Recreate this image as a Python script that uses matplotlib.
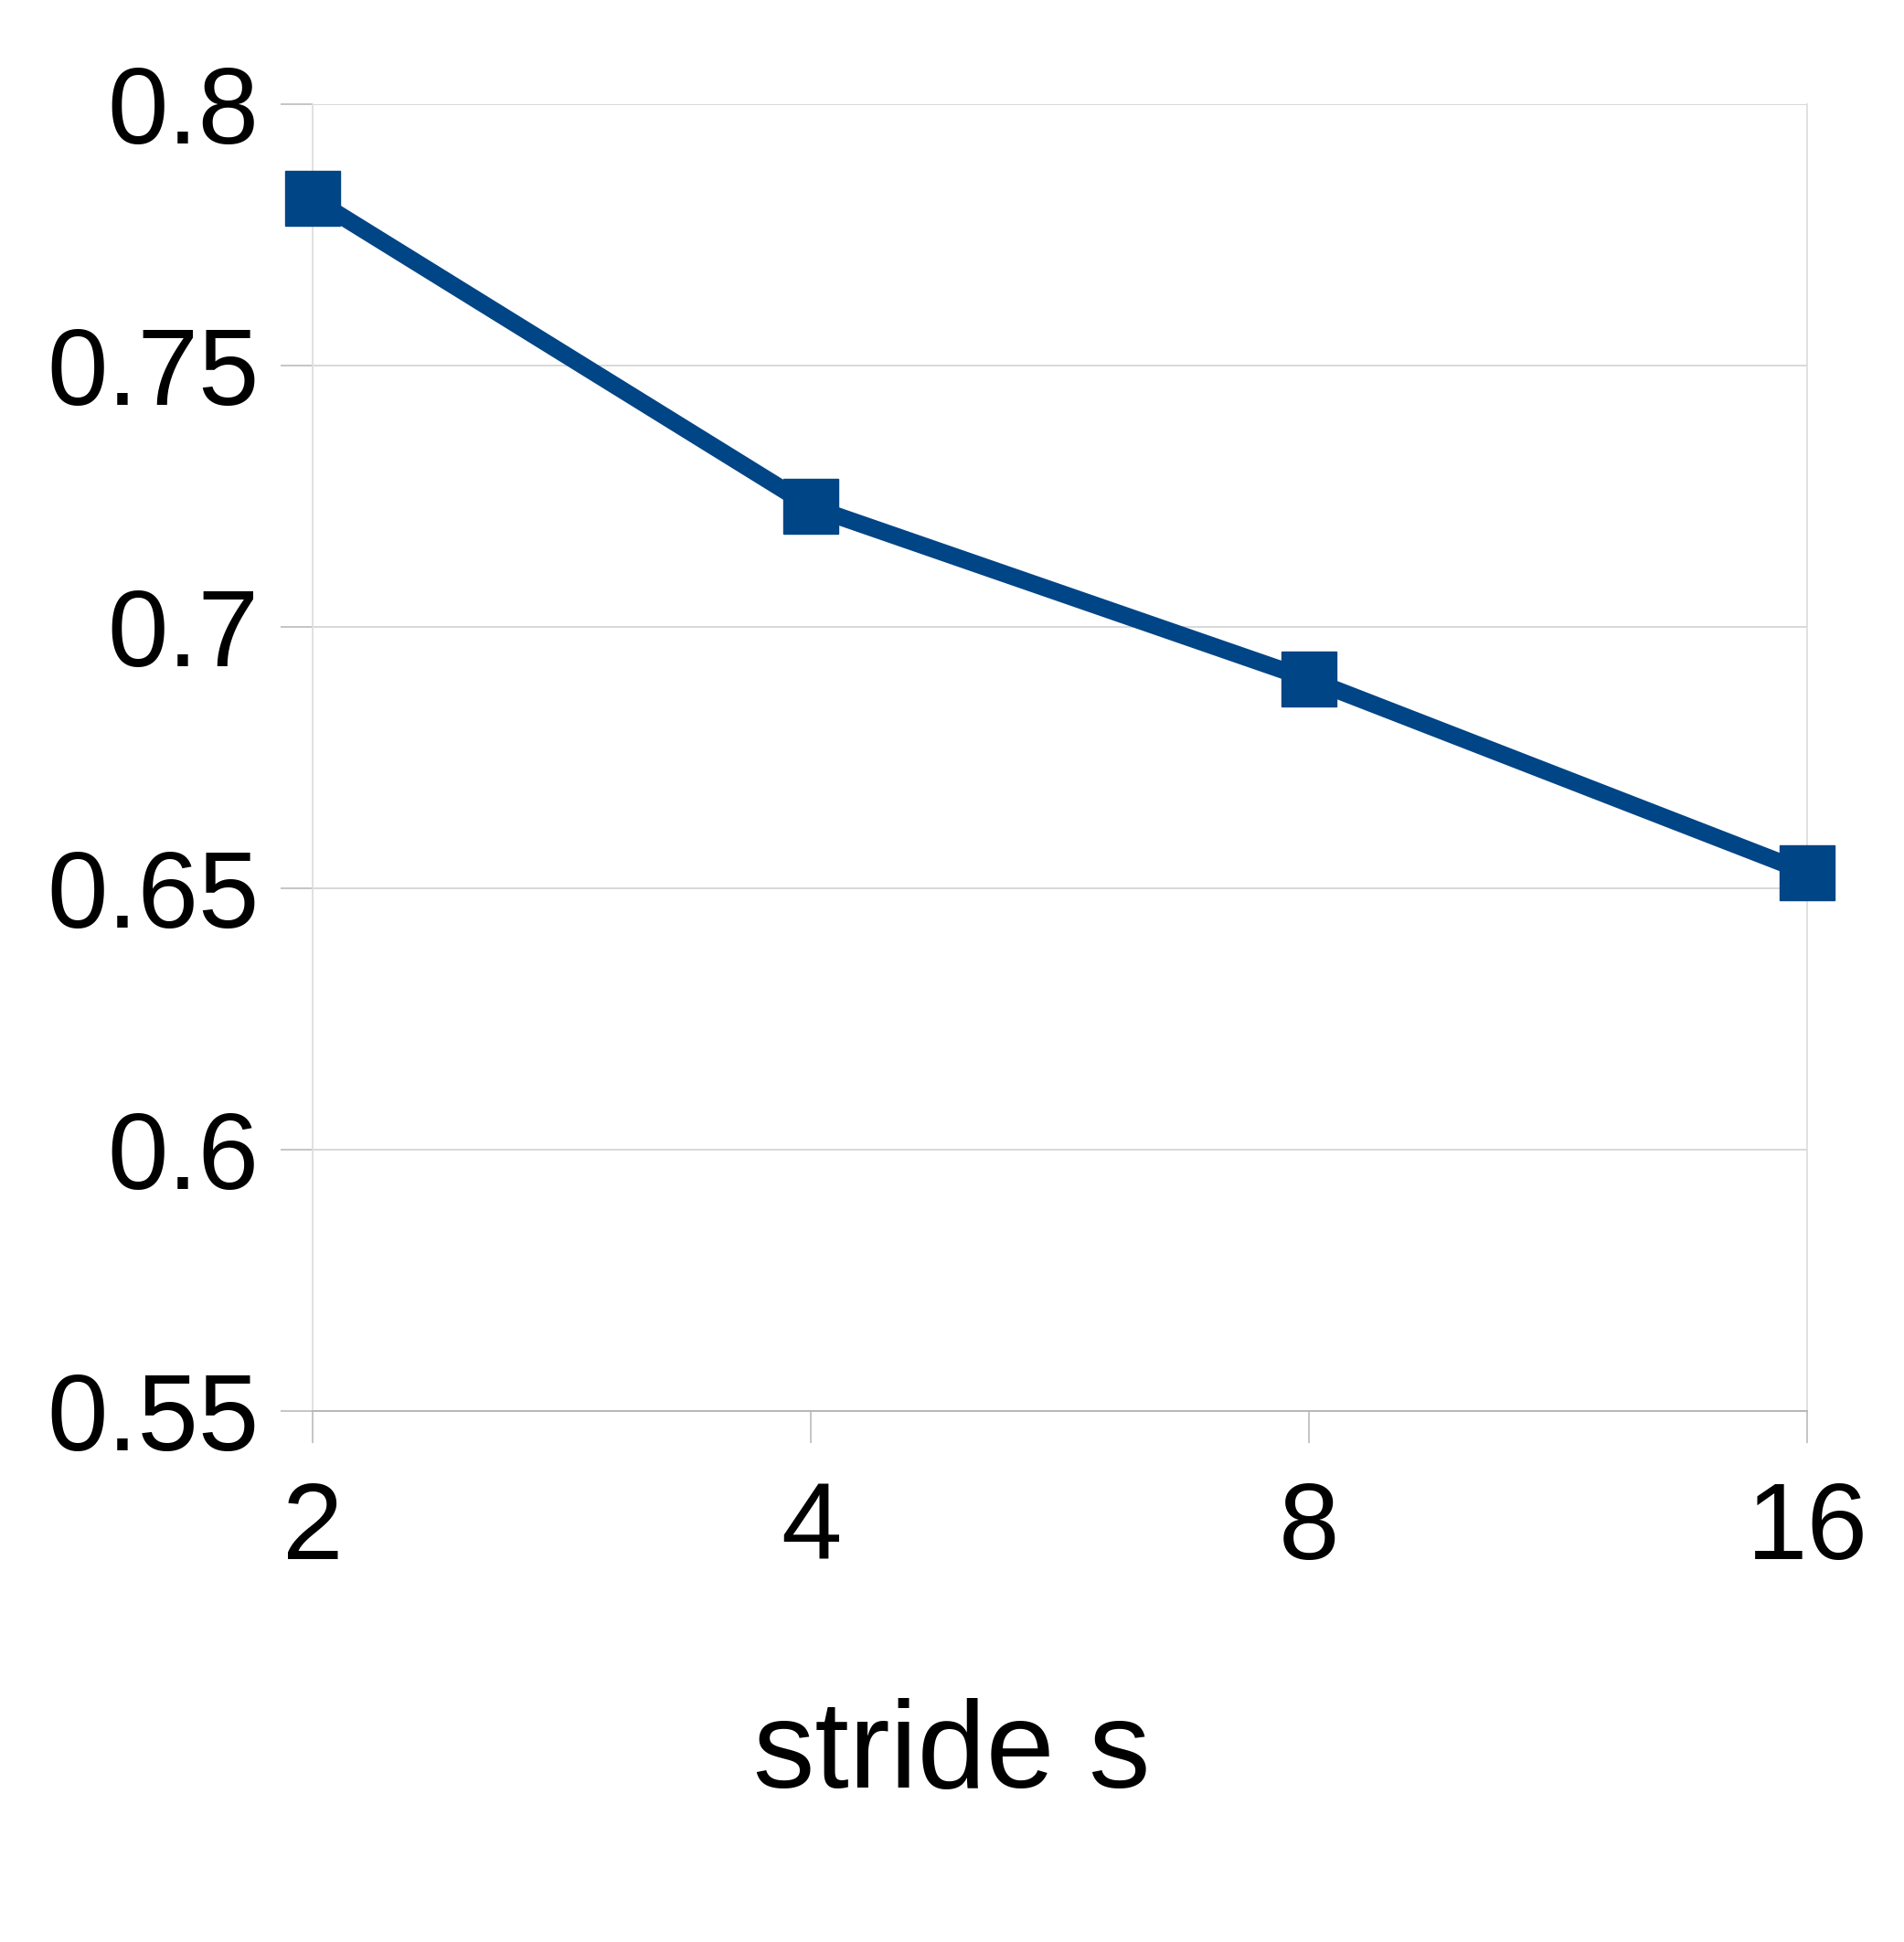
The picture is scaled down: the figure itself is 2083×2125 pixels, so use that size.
import matplotlib
matplotlib.use("Agg")
import matplotlib.pyplot as plt

strides = ["2", "4", "8", "16"]
values = [0.782, 0.723, 0.690, 0.653]
yticks = [0.55, 0.6, 0.65, 0.7, 0.75, 0.8]
ytick_labels = ["0.55", "0.6", "0.65", "0.7", "0.75", "0.8"]

plt.rcParams['font.family'] = ['Liberation Sans', 'DejaVu Sans']

fig = plt.figure(figsize=(20.83, 21.25), dpi=100)
ax = fig.add_axes([0.1642, 0.27341, 0.7849, 0.67294])

x = list(range(len(strides)))
ax.plot(x, values, color='#004586', linewidth=13.5, marker='s', markersize=42.5,
        solid_joinstyle='miter', zorder=3, clip_on=False)

ax.set_xlim(0, len(strides) - 1)
ax.set_ylim(0.55, 0.8)
ax.set_xticks(x)
ax.set_xticklabels(strides)
ax.set_yticks(yticks)
ax.set_yticklabels(ytick_labels)

ax.spines['top'].set_visible(False)
for s in ['left', 'right']:
    ax.spines[s].set_color('#dedede')
    ax.spines[s].set_linewidth(1.3)
ax.spines['bottom'].set_color('#b3b3b3')
ax.spines['bottom'].set_linewidth(1.3)

ax.yaxis.grid(True, color='#d6d6d6', linewidth=1.3)
ax.xaxis.grid(False)
ax.set_axisbelow(True)
ax.tick_params(axis='both', length=25, width=1.3, color='#c0c0c0', labelsize=86)
ax.tick_params(axis='y', pad=17)
ax.tick_params(axis='x', pad=30)

fig.text(0.5, 1 - 1956 / 2125, "stride s", fontsize=97, ha='center', va='baseline')

fig.savefig("out.png", dpi=100)
